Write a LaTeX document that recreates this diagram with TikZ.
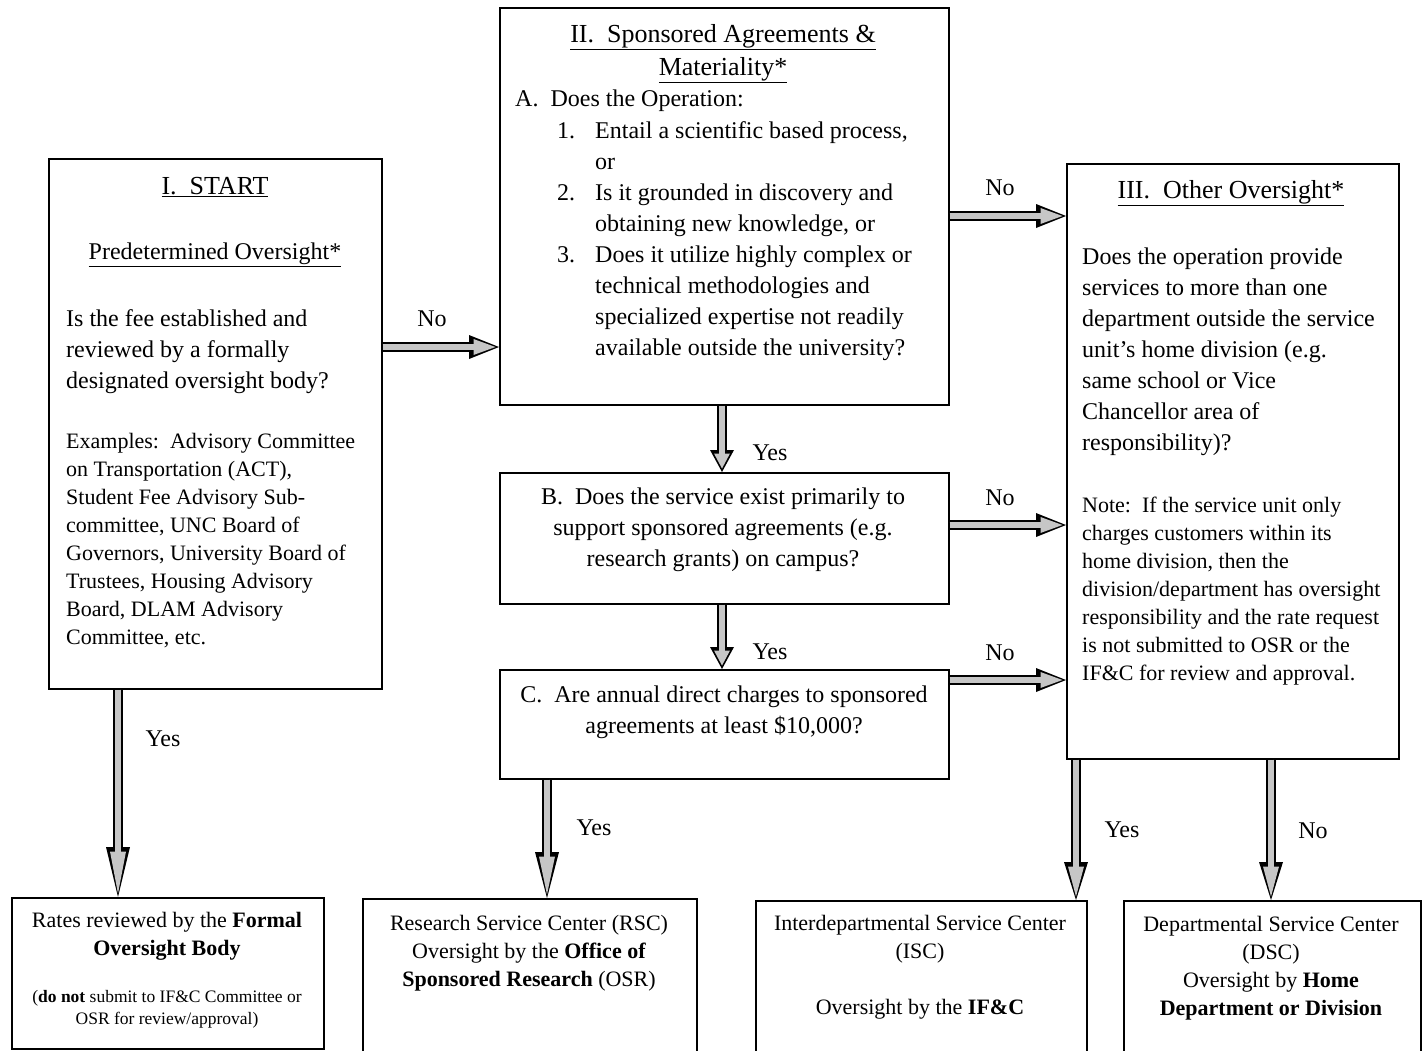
\documentclass[tikz,border=0pt]{standalone}
\usepackage{fontspec}
\setmainfont{Liberation Serif}
\usetikzlibrary{arrows.meta}
\newcommand\fhead{\fontsize{26}{33}\selectfont}
\newcommand\fmain{\fontsize{24}{31}\selectfont}
\newcommand\fsub{\fontsize{22}{28}\selectfont}
\newcommand\ftiny{\fontsize{17.5}{22}\selectfont}
\tikzset{
  box/.style={draw, line width=1.6pt, anchor=north west, inner sep=0pt},
  txt/.style={inner sep=0pt, text=black},
  bout/.style={line width=10pt, draw=black, -{Triangle[length=#1, width=24pt, line width=0pt]}},
  bin/.style={line width=6pt, draw=gray!45, shorten >=3.5pt, -{Triangle[length=#1, width=16pt, line width=0pt, fill=gray!45]}},
  lbl/.style={inner sep=0pt, font=\fmain}
}
\newcommand\blockarrow[4]{\draw[bout=#1] #3 -- #4; \draw[bin=#2] #3 -- #4;}
\begin{document}
\begin{tikzpicture}[x=1pt,y=-1pt]
\clip (0,0) rectangle (1423,1050);
\fill[white] (0,0) rectangle (1423,1050);
% boxes
\node[box, minimum width=333pt, minimum height=530pt] (start) at (48,158) {};
\node[box, minimum width=449pt, minimum height=397pt] (II) at (499,7) {};
\node[box, minimum width=449pt, minimum height=131pt] (B) at (499,472) {};
\node[box, minimum width=449pt, minimum height=109pt] (C) at (499,669) {};
\node[box, minimum width=332pt, minimum height=595pt] (III) at (1066,163) {};
\node[box, minimum width=312pt, minimum height=151pt] (R1) at (11,897) {};
\node[box, minimum width=334pt, minimum height=170pt] (R2) at (362,898) {};
\node[box, minimum width=331pt, minimum height=170pt] (R3) at (755,900) {};
\node[box, minimum width=297pt, minimum height=170pt] (R4) at (1123,900) {};
% start box text
\node[txt, font=\fhead, anchor=north] (startT) at (215,177) {\underline{I.\ \ START}};
\node[txt, font=\fmain, anchor=north] (startP) at (215,243) {\underline{Predetermined Oversight*}};
\node[txt, font=\fmain, anchor=north west, align=left] (startQ) at (66,309) {Is the fee established and\\reviewed by a formally\\designated oversight body?};
\node[txt, font=\fsub, anchor=north west, align=left] (startE) at (66,433) {Examples:\ \ Advisory Committee\\on Transportation (ACT),\\Student Fee Advisory Sub-\\committee, UNC Board of\\Governors, University Board of\\Trustees, Housing Advisory\\Board, DLAM Advisory\\Committee, etc.};
% box II
\node[txt, font=\fhead, anchor=north, align=center] (IIT) at (723,24) {\underline{II.\ \ Sponsored Agreements \&}\\\underline{Materiality*}};
\node[txt, font=\fmain, anchor=north west] (IIA) at (515,90) {A.\ \ Does the Operation:};
\node[txt, font=\fmain, anchor=north west, align=left] (IIL) at (557,121) {\makebox[38pt][l]{1.}Entail a scientific based process,\\\hspace*{38pt}or\\\makebox[38pt][l]{2.}Is it grounded in discovery and\\\hspace*{38pt}obtaining new knowledge, or\\\makebox[38pt][l]{3.}Does it utilize highly complex or\\\hspace*{38pt}technical methodologies and\\\hspace*{38pt}specialized expertise not readily\\\hspace*{38pt}available outside the university?};
% box B, C
\node[txt, font=\fmain, anchor=north, align=center] (BT) at (723,488) {B.\ \ Does the service exist primarily to\\support sponsored agreements (e.g.\\research grants) on campus?};
\node[txt, font=\fmain, anchor=north, align=center] (CT) at (724,686) {C.\ \ Are annual direct charges to sponsored\\agreements at least \$10,000?};
% box III
\node[txt, font=\fhead, anchor=north] (IIIT) at (1231,180) {\underline{III.\ \ Other Oversight*}};
\node[txt, font=\fmain, anchor=north west, align=left] (IIIQ) at (1082,248) {Does the operation provide\\services to more than one\\department outside the service\\unit’s home division (e.g.\\same school or Vice\\Chancellor area of\\responsibility)?};
\node[txt, font=\fsub, anchor=north west, align=left] (IIIN) at (1082,497) {Note:\ \ If the service unit only\\charges customers within its\\home division, then the\\division/department has oversight\\responsibility and the rate request\\is not submitted to OSR or the\\IF\&C for review and approval.};
% result boxes
\node[txt, font=\fsub, anchor=north, align=center] (R1a) at (167,912) {Rates reviewed by the \textbf{Formal}\\\textbf{Oversight Body}};
\node[txt, font=\ftiny, anchor=north, align=center] (R1b) at (167,990) {(\textbf{do not} submit to IF\&C Committee or\\OSR for review/approval)};
\node[txt, font=\fsub, anchor=north, align=center] (R2a) at (529,915) {Research Service Center (RSC)\\Oversight by the \textbf{Office of}\\\textbf{Sponsored Research} (OSR)};
\node[txt, font=\fsub, anchor=north, align=center] (R3a) at (920,915) {Interdepartmental Service Center\\(ISC)\\[28pt]Oversight by the \textbf{IF\&C}};
\node[txt, font=\fsub, anchor=north, align=center] (R4a) at (1271,916) {Departmental Service Center\\(DSC)\\Oversight by \textbf{Home}\\\textbf{Department or Division}};
% arrows
\blockarrow{30pt}{22pt}{(start.east |- 0,347)}{(II.west |- 0,347)}
\blockarrow{30pt}{22pt}{(II.east |- 0,216)}{(III.west |- 0,216)}
\blockarrow{30pt}{22pt}{(B.east |- 0,525)}{(III.west |- 0,525)}
\blockarrow{30pt}{22pt}{(C.east |- 0,680)}{(III.west |- 0,680)}
\blockarrow{22pt}{15pt}{(722,0 |- II.south)}{(722,0 |- B.north)}
\blockarrow{22pt}{15pt}{(722,0 |- B.south)}{(722,0 |- C.north)}
\blockarrow{50pt}{42pt}{(118,0 |- start.south)}{(118,0 |- R1.north)}
\blockarrow{46pt}{38pt}{(547,0 |- C.south)}{(547,0 |- R2.north)}
\blockarrow{38pt}{30pt}{(1076,0 |- III.south)}{(1076,0 |- R3.north)}
\blockarrow{38pt}{30pt}{(1271,0 |- III.south)}{(1271,0 |- R4.north)}
% labels
\node[lbl] (l1) at (432,319) {No};
\node[lbl] (l2) at (1000,188) {No};
\node[lbl] (l3) at (1000,498) {No};
\node[lbl] (l4) at (1000,653) {No};
\node[lbl] (l5) at (770,453) {Yes};
\node[lbl] (l6) at (770,652) {Yes};
\node[lbl] (l7) at (163,739) {Yes};
\node[lbl] (l8) at (594,828) {Yes};
\node[lbl] (l9) at (1122,830) {Yes};
\node[lbl] (l10) at (1313,831) {No};
\end{tikzpicture}
\end{document}
